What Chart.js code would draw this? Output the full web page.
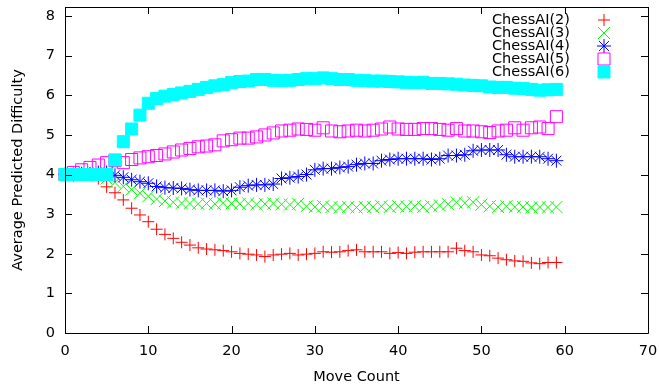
<!DOCTYPE html>
<html>
<head>
<meta charset="utf-8">
<title>ChessAI difficulty</title>
<script src="https://cdn.jsdelivr.net/npm/chart.js@4.4.1/dist/chart.umd.min.js"></script>
<style>
  html, body { margin: 0; padding: 0; background: #fff; }
  #wrap { width: 659px; height: 388px; }
</style>
</head>
<body>
<div id="wrap"><canvas id="chart" width="659" height="388"></canvas></div>
<script>
// Move numbers 0..59
const moves = [
  0, 1, 2, 3, 4, 5, 6, 7, 8, 9, 10, 11, 12, 13, 14, 15, 16, 17, 18, 19,
  20, 21, 22, 23, 24, 25, 26, 27, 28, 29, 30, 31, 32, 33, 34, 35, 36, 37, 38, 39,
  40, 41, 42, 43, 44, 45, 46, 47, 48, 49, 50, 51, 52, 53, 54, 55, 56, 57, 58, 59
];

const ai2 = [
  4.00, 4.00, 4.00, 3.98, 3.90, 3.69, 3.54, 3.36, 3.15, 2.98,
  2.81, 2.62, 2.49, 2.39, 2.29, 2.22, 2.15, 2.12, 2.10, 2.08,
  2.05, 2.01, 1.99, 1.97, 1.93, 1.97, 1.99, 2.01, 1.97, 1.99,
  2.01, 2.05, 2.04, 2.05, 2.08, 2.10, 2.05, 2.05, 2.05, 2.01,
  2.03, 2.01, 2.04, 2.05, 2.05, 2.05, 2.05, 2.14, 2.08, 2.05,
  1.97, 1.95, 1.89, 1.85, 1.82, 1.81, 1.77, 1.75, 1.78, 1.78
];

const ai3 = [
  4.00, 4.00, 4.02, 4.00, 3.97, 3.90, 3.80, 3.70, 3.62, 3.53,
  3.45, 3.38, 3.33, 3.30, 3.28, 3.27, 3.26, 3.27, 3.26, 3.28,
  3.27, 3.26, 3.27, 3.25, 3.26, 3.27, 3.25, 3.24, 3.26, 3.20,
  3.18, 3.20, 3.18, 3.17, 3.18, 3.17, 3.18, 3.18, 3.20, 3.18,
  3.20, 3.19, 3.20, 3.18, 3.20, 3.22, 3.25, 3.30, 3.28, 3.30,
  3.24, 3.20, 3.18, 3.20, 3.18, 3.18, 3.17, 3.18, 3.17, 3.18
];

const ai4 = [
  4.00, 4.00, 4.02, 4.02, 4.05, 4.05, 3.98, 3.93, 3.87, 3.82,
  3.78, 3.70, 3.67, 3.66, 3.65, 3.62, 3.60, 3.60, 3.60, 3.58,
  3.60, 3.68, 3.72, 3.74, 3.74, 3.76, 3.90, 3.92, 3.95, 4.00,
  4.12, 4.15, 4.15, 4.18, 4.20, 4.25, 4.28, 4.28, 4.35, 4.38,
  4.40, 4.40, 4.40, 4.40, 4.38, 4.40, 4.48, 4.48, 4.50, 4.60,
  4.62, 4.62, 4.62, 4.50, 4.45, 4.45, 4.45, 4.45, 4.40, 4.35
];

const ai5 = [
  4.00, 4.05, 4.12, 4.18, 4.24, 4.30, 4.35, 4.30, 4.38, 4.42,
  4.45, 4.48, 4.52, 4.57, 4.62, 4.66, 4.70, 4.72, 4.75, 4.85,
  4.88, 4.92, 4.92, 4.95, 5.00, 5.05, 5.10, 5.12, 5.15, 5.14,
  5.12, 5.18, 5.10, 5.08, 5.10, 5.12, 5.10, 5.12, 5.15, 5.20,
  5.15, 5.14, 5.14, 5.16, 5.16, 5.14, 5.12, 5.16, 5.10, 5.10,
  5.08, 5.06, 5.10, 5.12, 5.18, 5.12, 5.18, 5.20, 5.16, 5.46
];

const ai6 = [
  4.00, 4.00, 4.00, 4.00, 4.00, 4.00, 4.37, 4.83, 5.15, 5.50,
  5.80, 5.92, 5.98, 6.02, 6.06, 6.10, 6.15, 6.20, 6.24, 6.27,
  6.32, 6.35, 6.36, 6.40, 6.40, 6.38, 6.37, 6.38, 6.40, 6.42,
  6.42, 6.44, 6.42, 6.40, 6.40, 6.38, 6.37, 6.36, 6.36, 6.35,
  6.34, 6.33, 6.32, 6.33, 6.30, 6.30, 6.29, 6.28, 6.26, 6.25,
  6.24, 6.21, 6.20, 6.20, 6.18, 6.17, 6.15, 6.13, 6.14, 6.15
];

const seriesNames = ['ChessAI(2)', 'ChessAI(3)', 'ChessAI(4)', 'ChessAI(5)', 'ChessAI(6)'];
const xTicks = [0, 10, 20, 30, 40, 50, 60, 70];
const yTicks = [0, 1, 2, 3, 4, 5, 6, 7, 8];

const FONT = '"DejaVu Sans", "Liberation Sans", sans-serif';
const FONT_SIZE = 14.5;

function toPoints(values) {
    return values.map((v, i) => ({ x: moves[i], y: v }));
}

const styles = [
    { color: '#ff0000', pointStyle: 'cross', radius: 6, fill: false },
    { color: '#00ff00', pointStyle: 'crossRot', radius: 8.5, fill: false },
    { color: '#0000ff', pointStyle: 'star', radius: 7, fill: false },
    { color: '#ff00ff', pointStyle: 'rect', radius: 8.5, fill: false },
    { color: '#00ffff', pointStyle: 'rect', radius: 8.5, fill: true }
];

const datasets = [ai2, ai3, ai4, ai5, ai6].map((vals, i) => ({
    label: seriesNames[i],
    data: toPoints(vals),
    showLine: false,
    pointStyle: styles[i].pointStyle,
    pointRadius: styles[i].radius,
    pointHoverRadius: styles[i].radius,
    pointBorderWidth: 1,
    borderColor: styles[i].color,
    backgroundColor: styles[i].fill ? styles[i].color : 'rgba(0,0,0,0)',
    clip: false,
    order: 5 - i // later series sit on top
}));

// Frame, inward ticks on all four sides, axis titles and the key
const framePlugin = {
    id: 'frame',
    afterDraw(chart) {
        const ctx = chart.ctx;
        const a = chart.chartArea;
        const xs = chart.scales.x, ys = chart.scales.y;
        const tick = 7;
        ctx.save();
        ctx.strokeStyle = '#000';
        ctx.lineWidth = 1;
        ctx.beginPath();
        ctx.rect(Math.round(a.left) + 0.5, Math.round(a.top) + 0.5,
                 Math.round(a.right - a.left), Math.round(a.bottom - a.top));
        xTicks.forEach(v => {
            const px = Math.round(xs.getPixelForValue(v)) + 0.5;
            ctx.moveTo(px, a.bottom); ctx.lineTo(px, a.bottom - tick);
            ctx.moveTo(px, a.top); ctx.lineTo(px, a.top + tick);
        });
        yTicks.forEach(v => {
            const py = Math.round(ys.getPixelForValue(v)) + 0.5;
            ctx.moveTo(a.left, py); ctx.lineTo(a.left + tick, py);
            ctx.moveTo(a.right, py); ctx.lineTo(a.right - tick, py);
        });
        ctx.stroke();

        ctx.fillStyle = '#000';
        ctx.font = FONT_SIZE + 'px ' + FONT;
        ctx.textAlign = 'center';
        ctx.textBaseline = 'middle';
        ctx.fillText('Move Count', (a.left + a.right) / 2, 377);
        ctx.save();
        ctx.translate(18, (a.top + a.bottom) / 2);
        ctx.rotate(-Math.PI / 2);
        ctx.fillText('Average Predicted Difficulty', 0, 0);
        ctx.restore();

        // key, top right
        ctx.textAlign = 'right';
        chart.data.datasets.forEach((ds, i) => {
            const y = 20 + i * 13;
            ctx.fillStyle = '#000';
            ctx.fillText(ds.label, 570, y);
            ctx.strokeStyle = ds.borderColor;
            ctx.fillStyle = ds.backgroundColor;
            ctx.lineWidth = 1;
            Chart.helpers.drawPoint(ctx, {
                pointStyle: ds.pointStyle,
                radius: ds.pointRadius,
                borderWidth: 1,
                rotation: 0
            }, 604, y);
        });
        ctx.restore();
    }
};

const chart = new Chart(document.getElementById('chart').getContext('2d'), {
    type: 'scatter',
    data: { datasets: datasets },
    options: {
        responsive: false,
        animation: false,
        events: [],
        layout: { autoPadding: false, padding: { top: 7, right: 11, left: 0, bottom: 0 } },
        plugins: {
            legend: { display: false },
            tooltip: { enabled: false }
        },
        scales: {
            x: {
                type: 'linear',
                min: 0,
                max: 70,
                grid: { display: false, drawTicks: false },
                border: { display: false },
                afterFit: s => { s.height = 55; s.paddingLeft = 0; s.paddingRight = 0; },
                afterBuildTicks: s => { s.ticks = xTicks.map(v => ({ value: v })); },
                ticks: {
                    padding: 10,
                    maxRotation: 0,
                    color: '#000',
                    font: { family: FONT, size: FONT_SIZE }
                }
            },
            y: {
                type: 'linear',
                min: 0,
                max: 8.23,
                grid: { display: false, drawTicks: false },
                border: { display: false },
                afterFit: s => { s.width = 65; s.paddingTop = 0; s.paddingBottom = 0; },
                afterBuildTicks: s => { s.ticks = yTicks.map(v => ({ value: v })); },
                ticks: {
                    padding: 10,
                    color: '#000',
                    font: { family: FONT, size: FONT_SIZE }
                }
            }
        }
    },
    plugins: [framePlugin]
});
</script>
</body>
</html>
